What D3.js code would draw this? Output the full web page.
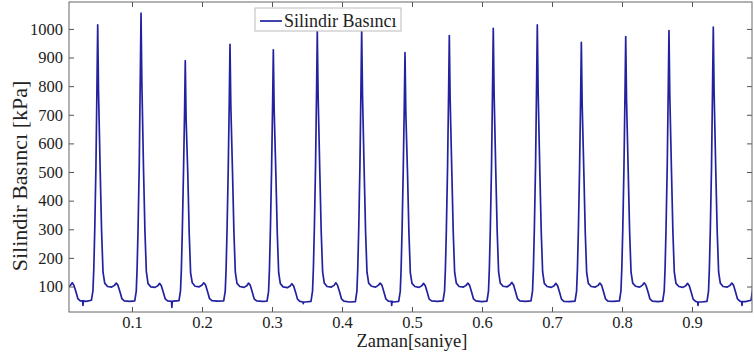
<!DOCTYPE html>
<html>
<head>
<meta charset="utf-8">
<script src="https://cdn.jsdelivr.net/npm/d3@7/dist/d3.min.js"></script>
<style>
  html, body { margin: 0; padding: 0; background: #fff; }
</style>
</head>
<body>
<div id="chart"></div>
<script>
// pressure samples: [time (s), pressure (kPa)]
const pressureSamples = [
  [0.0081, 98], [0.0121, 104], [0.0146, 113], [0.0171, 104], [0.0201, 80], [0.0226, 58], [0.0261, 50],
  [0.0295, 50], [0.0300, 34], [0.0305, 50], [0.0341, 48],
  // cycle 1
  [0.0420, 52], [0.0442, 85], [0.0454, 160], [0.0468, 300], [0.0485, 520], [0.0500, 810], [0.0510, 1014],
  [0.0522, 780], [0.0546, 500], [0.0566, 290], [0.0586, 150], [0.0610, 112], [0.0650, 100], [0.0710, 98],
  [0.0750, 104], [0.0775, 112], [0.0800, 104], [0.0830, 80], [0.0855, 58], [0.0890, 50], [0.0970, 48],
  // cycle 2
  [0.1039, 50], [0.1061, 84], [0.1073, 165], [0.1087, 305], [0.1104, 530], [0.1119, 845], [0.1129, 1055],
  [0.1141, 810], [0.1165, 505], [0.1185, 292], [0.1205, 152], [0.1229, 110], [0.1269, 99], [0.1329, 97],
  [0.1369, 103], [0.1394, 111], [0.1419, 103], [0.1449, 78], [0.1474, 57], [0.1509, 50],
  [0.1565, 48], [0.1570, 27], [0.1575, 48], [0.1589, 49],
  // cycle 3
  [0.1671, 51], [0.1693, 86], [0.1705, 158], [0.1719, 296], [0.1736, 505], [0.1751, 710], [0.1761, 889],
  [0.1773, 685], [0.1797, 495], [0.1817, 288], [0.1837, 148], [0.1861, 113], [0.1901, 101], [0.1961, 99],
  [0.2001, 105], [0.2026, 113], [0.2051, 105], [0.2081, 81], [0.2106, 59], [0.2141, 51], [0.2221, 49],
  // cycle 4
  [0.2310, 50], [0.2332, 84], [0.2344, 160], [0.2358, 300], [0.2375, 515], [0.2390, 755], [0.2400, 946],
  [0.2412, 730], [0.2436, 498], [0.2456, 290], [0.2476, 150], [0.2500, 111], [0.2540, 100], [0.2600, 97],
  [0.2640, 103], [0.2665, 112], [0.2690, 104], [0.2720, 79], [0.2745, 57], [0.2780, 50], [0.2860, 48],
  // cycle 5
  [0.2929, 49], [0.2951, 83], [0.2963, 158], [0.2977, 298], [0.2994, 510], [0.3009, 740], [0.3019, 927],
  [0.3031, 715], [0.3055, 496], [0.3075, 289], [0.3095, 149], [0.3119, 110], [0.3159, 99], [0.3219, 96],
  [0.3259, 102], [0.3284, 110], [0.3309, 102], [0.3339, 78], [0.3364, 56], [0.3399, 48],
  [0.3442, 46], [0.3447, 40], [0.3452, 46], [0.3479, 46],
  // cycle 6
  [0.3557, 48], [0.3579, 84], [0.3591, 162], [0.3605, 302], [0.3622, 520], [0.3637, 790], [0.3647, 991],
  [0.3659, 765], [0.3683, 500], [0.3703, 291], [0.3723, 151], [0.3747, 112], [0.3787, 100], [0.3847, 98],
  [0.3887, 104], [0.3912, 113], [0.3937, 104], [0.3967, 80], [0.3992, 57], [0.4027, 49], [0.4107, 46],
  // cycle 7
  [0.4191, 47], [0.4213, 84], [0.4225, 162], [0.4239, 302], [0.4256, 520], [0.4271, 795], [0.4281, 996],
  [0.4293, 770], [0.4317, 500], [0.4337, 290], [0.4357, 150], [0.4381, 112], [0.4421, 101], [0.4481, 98],
  [0.4521, 105], [0.4546, 112], [0.4571, 104], [0.4601, 79], [0.4626, 57], [0.4661, 49],
  [0.4705, 48], [0.4710, 34], [0.4715, 48], [0.4741, 46],
  // cycle 8
  [0.4810, 48], [0.4832, 83], [0.4844, 157], [0.4858, 297], [0.4875, 508], [0.4890, 735], [0.4900, 917],
  [0.4912, 705], [0.4936, 495], [0.4956, 288], [0.4976, 148], [0.5000, 111], [0.5040, 100], [0.5100, 97],
  [0.5140, 103], [0.5165, 111], [0.5190, 103], [0.5220, 78], [0.5245, 56], [0.5280, 50], [0.5360, 48],
  // cycle 9
  [0.5443, 50], [0.5465, 85], [0.5477, 161], [0.5491, 300], [0.5508, 518], [0.5523, 780], [0.5533, 977],
  [0.5545, 752], [0.5569, 499], [0.5589, 290], [0.5609, 150], [0.5633, 112], [0.5673, 100], [0.5733, 98],
  [0.5773, 104], [0.5798, 112], [0.5823, 104], [0.5853, 79], [0.5878, 57], [0.5913, 50], [0.5993, 47],
  // cycle 10
  [0.6071, 49], [0.6093, 85], [0.6105, 163], [0.6119, 303], [0.6136, 522], [0.6151, 800], [0.6161, 1002],
  [0.6173, 772], [0.6197, 501], [0.6217, 291], [0.6237, 151], [0.6261, 112], [0.6301, 101], [0.6361, 99],
  [0.6401, 106], [0.6426, 114], [0.6451, 105], [0.6481, 80], [0.6506, 58], [0.6541, 50], [0.6621, 48],
  // cycle 11
  [0.6700, 50], [0.6722, 85], [0.6734, 163], [0.6748, 303], [0.6765, 524], [0.6780, 810], [0.6790, 1014],
  [0.6802, 780], [0.6826, 502], [0.6846, 292], [0.6866, 151], [0.6890, 111], [0.6930, 100], [0.6990, 97],
  [0.7030, 103], [0.7055, 111], [0.7080, 103], [0.7110, 78], [0.7135, 56], [0.7170, 48], [0.7250, 47],
  // cycle 12
  [0.7329, 49], [0.7351, 84], [0.7363, 160], [0.7377, 299], [0.7394, 514], [0.7409, 760], [0.7419, 953],
  [0.7431, 735], [0.7455, 498], [0.7475, 289], [0.7495, 149], [0.7519, 111], [0.7559, 100], [0.7619, 98],
  [0.7659, 104], [0.7684, 112], [0.7709, 104], [0.7739, 79], [0.7764, 57], [0.7799, 49], [0.7879, 48],
  // cycle 13
  [0.7963, 50], [0.7985, 85], [0.7997, 161], [0.8011, 300], [0.8028, 517], [0.8043, 778], [0.8053, 973],
  [0.8065, 750], [0.8089, 499], [0.8109, 290], [0.8129, 150], [0.8153, 112], [0.8193, 101], [0.8253, 98],
  [0.8293, 105], [0.8318, 113], [0.8343, 104], [0.8373, 80], [0.8398, 57], [0.8433, 49], [0.8513, 47],
  // cycle 14
  [0.8581, 49], [0.8603, 85], [0.8615, 162], [0.8629, 302], [0.8646, 520], [0.8661, 795], [0.8671, 994],
  [0.8683, 765], [0.8707, 500], [0.8727, 291], [0.8747, 150], [0.8771, 111], [0.8811, 100], [0.8871, 97],
  [0.8911, 103], [0.8936, 111], [0.8961, 103], [0.8991, 78], [0.9016, 56], [0.9051, 48],
  [0.9081, 46], [0.9086, 34], [0.9091, 46], [0.9131, 46],
  // cycle 15
  [0.9214, 48], [0.9236, 84], [0.9248, 163], [0.9262, 303], [0.9279, 522], [0.9294, 805], [0.9304, 1006],
  [0.9316, 775], [0.9340, 501], [0.9360, 291], [0.9380, 151], [0.9404, 112], [0.9444, 100], [0.9504, 98],
  [0.9544, 104], [0.9569, 112], [0.9594, 104], [0.9624, 79], [0.9649, 57], [0.9684, 49],
  [0.9709, 47], [0.9714, 34], [0.9719, 47], [0.9764, 47],
  // start of the next rise
  [0.9843, 52], [0.9865, 88], [0.9877, 160]
];

const xTicks = [0.1, 0.2, 0.3, 0.4, 0.5, 0.6, 0.7, 0.8, 0.9];
const yTicks = [100, 200, 300, 400, 500, 600, 700, 800, 900, 1000];
const xDomain = [0.0100, 0.9857];
const yDomain = [11, 1094];
const seriesName = "Silindir Basıncı";
const xTitle = "Zaman[saniye]";
const yTitle = "Silindir Basıncı [kPa]";

const W = 754, H = 354;
const margin = { top: 2, right: 2, bottom: 42, left: 69 };
const width = W - margin.left - margin.right;
const height = H - margin.top - margin.bottom;
const serif = "'Liberation Serif', 'Times New Roman', serif";
const lineColor = "#2222a0";

const svg = d3.select("#chart").append("svg")
  .attr("width", W)
  .attr("height", H);

const g = svg.append("g")
  .attr("transform", `translate(${margin.left},${margin.top})`);

const x = d3.scaleLinear().domain(xDomain).range([0, width]);
const y = d3.scaleLinear().domain(yDomain).range([height, 0]);

g.append("clipPath").attr("id", "plot-clip")
  .append("rect").attr("width", width).attr("height", height);

// data line
const line = d3.line()
  .x(d => x(d[0]))
  .y(d => y(d[1]));

g.append("path")
  .datum(pressureSamples)
  .attr("clip-path", "url(#plot-clip)")
  .attr("fill", "none")
  .attr("stroke", lineColor)
  .attr("stroke-width", 1.7)
  .attr("stroke-linejoin", "round")
  .attr("d", line);

// axes, MATLAB style with inward ticks on all sides
const tickLen = 5;
const styleAxis = sel => {
  sel.select(".domain").remove();
  sel.selectAll(".tick line").attr("stroke", "#555");
  sel.selectAll(".tick text")
    .style("font-family", serif)
    .style("font-size", "16.5px")
    .style("fill", "#222");
};

const xAxis = g.append("g")
  .attr("transform", `translate(0,${height})`)
  .call(d3.axisBottom(x).tickValues(xTicks).tickFormat(d3.format(".1f"))
    .tickSizeInner(-tickLen))
  .call(styleAxis);
xAxis.selectAll(".tick text").attr("y", 16).attr("dy", 0);

g.append("g")
  .call(d3.axisTop(x).tickValues(xTicks).tickFormat("").tickSizeInner(-tickLen))
  .call(styleAxis);

const yAxis = g.append("g")
  .call(d3.axisLeft(y).tickValues(yTicks).tickFormat(d3.format("d")).tickSizeInner(-tickLen))
  .call(styleAxis);
yAxis.selectAll(".tick text").attr("x", -6);

g.append("g")
  .attr("transform", `translate(${width},0)`)
  .call(d3.axisRight(y).tickValues(yTicks).tickFormat("").tickSizeInner(-tickLen))
  .call(styleAxis);

// frame
g.append("rect")
  .attr("width", width)
  .attr("height", height)
  .attr("fill", "none")
  .attr("stroke", "#666")
  .attr("stroke-width", 1);

// legend
const legend = g.append("g").attr("transform", "translate(186,6)");
legend.append("rect")
  .attr("x", 0).attr("y", 0)
  .attr("width", 146).attr("height", 23)
  .attr("fill", "#fff")
  .attr("stroke", "#bbb");
legend.append("line")
  .attr("x1", 5).attr("x2", 27)
  .attr("y1", 13).attr("y2", 13)
  .attr("stroke", lineColor)
  .attr("stroke-width", 1.7);
legend.append("text")
  .attr("x", 29).attr("y", 19)
  .style("font-family", serif)
  .style("font-size", "18px")
  .style("fill", "#222")
  .text(seriesName);

// axis titles
svg.append("text")
  .attr("x", margin.left + x(0.5)).attr("y", 347)
  .attr("text-anchor", "middle")
  .style("font-family", serif)
  .style("font-size", "18.5px")
  .style("fill", "#222")
  .text(xTitle);

svg.append("text")
  .attr("transform", "translate(27,176) rotate(-90)")
  .attr("text-anchor", "middle")
  .style("font-family", serif)
  .style("font-size", "22px")
  .style("fill", "#222")
  .text(yTitle);
</script>
</body>
</html>
